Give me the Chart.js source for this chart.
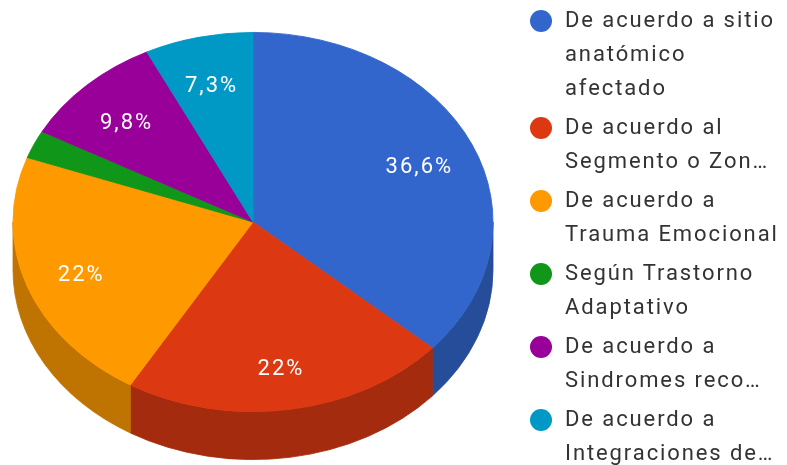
<!DOCTYPE html>
<html>
<head>
<meta charset="utf-8">
<script src="https://cdn.jsdelivr.net/npm/chart.js@4"></script>
<style>
  html, body { margin: 0; padding: 0; background: #fff; }
  #wrap { position: relative; width: 787px; height: 465px; overflow: hidden; }
  #legend { position: absolute; left: 530px; top: 3px; font-family: Roboto, Arial, sans-serif; font-size: 22px; color: #333; letter-spacing: 1.9px; }
  .item { display: flex; align-items: flex-start; margin-bottom: 5px; }
  .dot { width: 22px; height: 22px; border-radius: 50%; margin-top: 7px; margin-right: 13px; flex: none; }
  .txt { line-height: 34px; white-space: nowrap; }
</style>
</head>
<body>
<div id="wrap">
  <canvas id="pieChart" width="787" height="465"></canvas>
  <div id="legend"></div>
</div>
<script>
const categories = [
  "De acuerdo a sitio anatómico afectado",
  "De acuerdo al Segmento o Zon…",
  "De acuerdo a Trauma Emocional",
  "Según Trastorno Adaptativo",
  "De acuerdo a Sindromes reco…",
  "De acuerdo a Integraciones de…",
];
// how the legend text wraps in the picture
const legendLines = [
  ["De acuerdo a sitio", "anatómico", "afectado"],
  ["De acuerdo al", "Segmento o Zon…"],
  ["De acuerdo a", "Trauma Emocional"],
  ["Según Trastorno", "Adaptativo"],
  ["De acuerdo a", "Sindromes reco…"],
  ["De acuerdo a", "Integraciones de…"],
];
const percents = [36.6, 22, 22, 2.4, 9.8, 7.3];
const colors = ["#3366cc", "#dc3912", "#ff9900", "#109618", "#990099", "#0099c6"];
const sideColors = ["#264d99", "#a52b0e", "#bf7300", "#0c7112", "#730073", "#007395"];

const TILT = 0.79;      // vertical squash of the top face
const CENTER_Y = 222;   // where the top face sits on screen
const DEPTH = 48;       // thickness of the disc

// legend
const legend = document.getElementById("legend");
legendLines.forEach((lines, i) => {
  const item = document.createElement("div");
  item.className = "item";
  item.innerHTML = `<span class="dot" style="background:${colors[i]}"></span>
    <div class="txt">${lines.join("<br>")}</div>`;
  legend.appendChild(item);
});

function formatPct(v) {
  let s = v.toFixed(1);
  if (s.endsWith(".0")) s = s.slice(0, -2);
  return s.replace(".", ",") + "%";
}

const pie3d = {
  id: "pie3d",
  beforeDatasetsDraw(chart) {
    const ctx = chart.ctx;
    const arcs = chart.getDatasetMeta(0).data;
    if (!arcs.length) return;
    const cx = arcs[0].x;
    const R = arcs[0].outerRadius;
    const ry = R * TILT;

    // side walls, only the front half (0..PI) is visible
    arcs.forEach((el, i) => {
      for (let k = -1; k <= 1; k++) {
        const lo = Math.max(el.startAngle, 2 * Math.PI * k);
        const hi = Math.min(el.endAngle, 2 * Math.PI * k + Math.PI);
        if (hi <= lo) continue;
        ctx.beginPath();
        ctx.ellipse(cx, CENTER_Y, R, ry, 0, lo, hi, false);
        ctx.ellipse(cx, CENTER_Y + DEPTH, R, ry, 0, hi, lo, true);
        ctx.closePath();
        ctx.fillStyle = sideColors[i];
        ctx.fill();
        ctx.strokeStyle = sideColors[i];
        ctx.lineWidth = 0.8;
        ctx.stroke();
      }
    });

    // squash the top face into an ellipse
    ctx.save();
    ctx.translate(0, CENTER_Y);
    ctx.scale(1, TILT);
    ctx.translate(0, -arcs[0].y);
  },
  afterDatasetsDraw(chart) {
    const ctx = chart.ctx;
    ctx.restore();
    const arcs = chart.getDatasetMeta(0).data;
    const data = chart.data.datasets[0].data;
    const total = data.reduce((a, b) => a + b, 0);
    ctx.save();
    ctx.font = "22px Roboto, Arial, sans-serif";
    ctx.letterSpacing = "2px";
    ctx.fillStyle = "#ffffff";
    ctx.textAlign = "center";
    ctx.textBaseline = "middle";
    arcs.forEach((el, i) => {
      const pct = (data[i] / total) * 100;
      if (pct < 5) return;
      const mid = (el.startAngle + el.endAngle) / 2;
      const f = 0.76;
      const x = el.x + f * el.outerRadius * Math.cos(mid);
      const y = CENTER_Y + 5 + f * el.outerRadius * TILT * Math.sin(mid);
      ctx.fillText(formatPct(pct), x, y);
    });
    ctx.restore();
  },
};

new Chart(document.getElementById("pieChart").getContext("2d"), {
  type: "pie",
  data: {
    labels: categories,
    datasets: [
      {
        data: percents,
        backgroundColor: colors,
        borderColor: colors,
        borderWidth: 1,
        radius: 240,
        clip: false,
      },
    ],
  },
  options: {
    responsive: false,
    animation: false,
    layout: { padding: { left: 13, right: 294, top: 0, bottom: 0 } },
    plugins: {
      legend: { display: false },
      tooltip: { enabled: false },
    },
  },
  plugins: [pie3d],
});
</script>
</body>
</html>
